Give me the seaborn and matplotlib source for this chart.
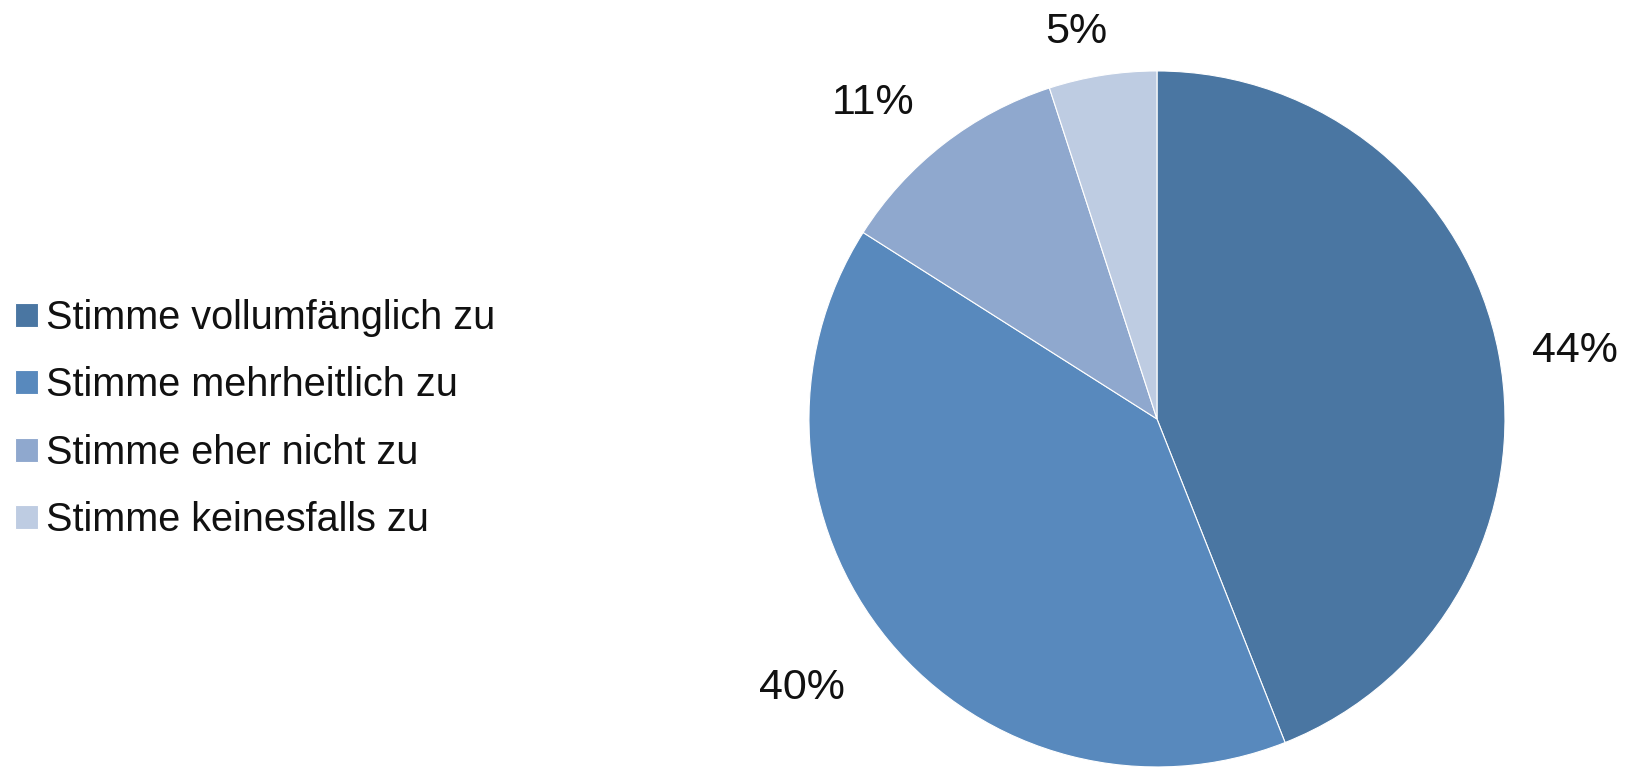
import numpy as np
import matplotlib
matplotlib.use("Agg")
import matplotlib.pyplot as plt
import seaborn as sns

# ──────────────────────────────────────────
# DATA
# ──────────────────────────────────────────
categories = ["Stimme vollumfänglich zu", "Stimme mehrheitlich zu",
              "Stimme eher nicht zu", "Stimme keinesfalls zu"]
shares = [44, 40, 11, 5]
pct_labels = ["44%", "40%", "11%", "5%"]

colors = ["#4A76A2", "#5889BD", "#8FA8CE", "#BECCE2"]

sns.set_theme(style="white")
plt.rcParams["font.family"] = ["Liberation Sans", "DejaVu Sans"]

fig = plt.figure(figsize=(16.3, 7.73), dpi=100)
ax = fig.add_axes([0.4963, 0.0078, 0.4270, 0.9004])

wedges, _ = ax.pie(shares, colors=colors, startangle=90, counterclock=False,
                   wedgeprops=dict(linewidth=0.8, edgecolor="#ffffff"))
ax.set_aspect("equal")
ax.set_xlim(-1, 1)
ax.set_ylim(-1, 1)

# labels outside the slices (Excel-style "best fit")
label_dist = [1.217, 1.28, 1.221, 1.136]
label_shift = [-1.6, -2.5, 4.1, 2.8]
for w, txt, d, s in zip(wedges, pct_labels, label_dist, label_shift):
    ang = np.deg2rad((w.theta1 + w.theta2) / 2 + s)
    ax.text(d * np.cos(ang), d * np.sin(ang), txt, ha="center", va="center",
            fontsize=31, color="#111111", clip_on=False)

leg = fig.legend(wedges, categories, loc="center left", bbox_to_anchor=(-0.0075, 0.458),
                 frameon=False, fontsize=28.5, handlelength=0.56, handleheight=0.56,
                 handletextpad=0.22, labelspacing=0.74, borderaxespad=0.3)
for t in leg.get_texts():
    t.set_color("#111111")

plt.savefig("out.png", dpi=100)
